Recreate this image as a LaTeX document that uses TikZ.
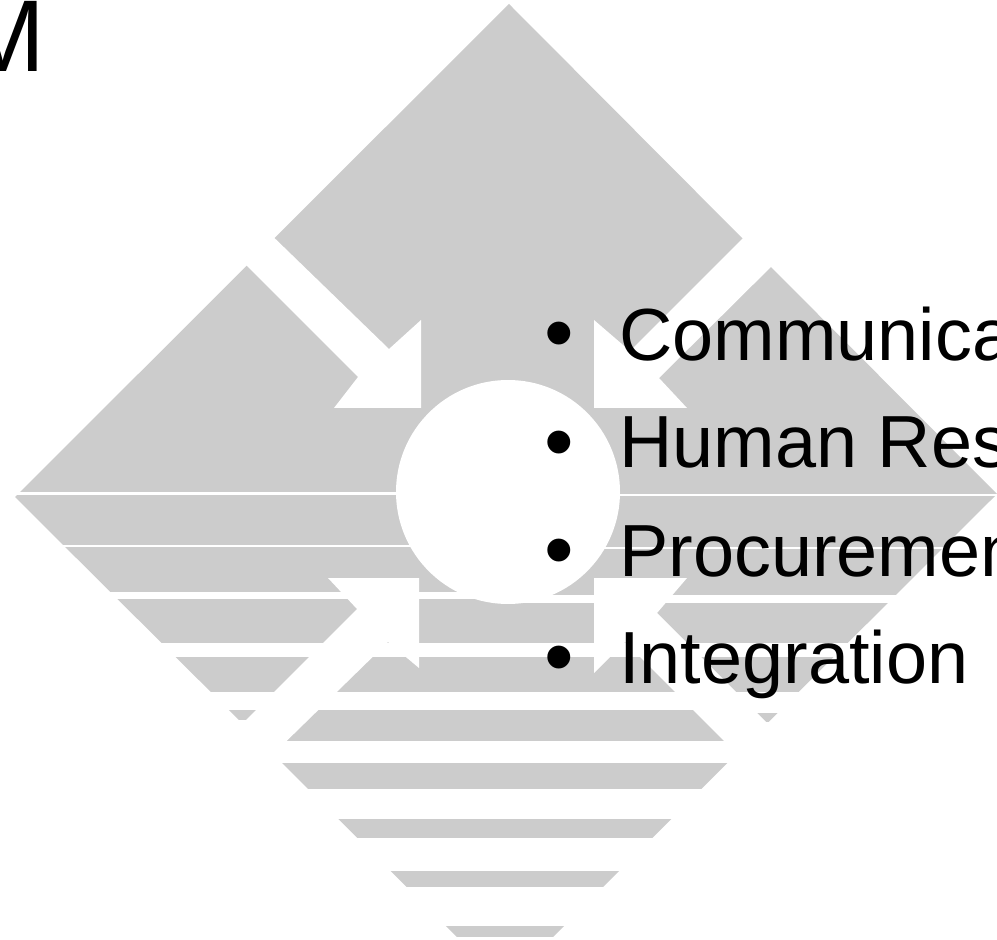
\documentclass[tikz,border=0pt]{standalone}
\usepackage{fontspec}
\setmainfont{Liberation Sans}
\definecolor{logogray}{HTML}{CCCCCC}
\tikzset{
    bandgap/.style={fill=white},
    itemtext/.style={anchor=base west, inner sep=0pt, font=\fontsize{21}{21}\selectfont},
    dottext/.style={anchor=base, inner sep=0pt, font=\fontsize{24}{24}\selectfont}
}
\begin{document}
\begin{tikzpicture}[x=0.01cm, y=-0.01cm]
    \useasboundingbox (0, 0) rectangle (997, 940);
    \clip (0, 0) rectangle (997, 940);

    % Big diamond behind everything
    \fill[logogray] (509, 4) -- (997, 494) -- (505, 985) -- (15, 497) -- cycle;

    % White gaps, left half
    \foreach \ya/\yb in {492/494.5, 544.5/546.5, 592/599}
        \fill[bandgap] (0, \ya) rectangle (510, \yb);
    % White gaps, right half
    \foreach \ya/\yb in {493.5/495.5, 546.5/548.5, 595/602.5}
        \fill[bandgap] (510, \ya) rectangle (997, \yb);
    % White gaps, full width
    \foreach \ya/\yb in {642.5/656.5, 692/710, 741/763, 789/819, 838/871, 887/926, 937/940}
        \fill[bandgap] (0, \ya) rectangle (997, \yb);

    % Small pieces at the ends of the lowest band
    \fill[bandgap] (0, 720) rectangle (270, 741);
    \fill[bandgap] (740, 710) rectangle (997, 713);
    \fill[bandgap] (740, 722) rectangle (997, 741);

    % Arrows towards the middle
    \fill[white] (421, 320) -- (389, 349) -- (260, 224) -- (232, 251) -- (358, 377)
        -- (334, 408) -- (421, 408) -- cycle;
    \fill[white] (594, 320) -- (630, 351) -- (757, 224) -- (786, 252) -- (659, 378)
        -- (687, 408) -- (594, 408) -- cycle;
    \fill[white] (419, 578) -- (328, 578) -- (357, 609) -- (232, 734) -- (263, 764)
        -- (388, 642) -- (419, 668) -- cycle;
    \fill[white] (594, 578) -- (687, 578) -- (657, 613) -- (777, 733) -- (747, 764)
        -- (625, 642) -- (594, 673) -- cycle;

    % Circle in the middle
    \fill[white] (508, 492) circle (112);

    % Cut off title letter
    \node[anchor=base east, inner sep=0pt, font=\fontsize{29}{29}\selectfont] (titleM) at (46.5, 72) {M};

    % Bullet list
    \node[dottext] (dotA) at (559, 361.5) {•};
    \node[itemtext] (itemA) at (618.5, 361) {Communica};
    \node[dottext] (dotB) at (559, 470.5) {•};
    \node[itemtext] (itemB) at (618.5, 468) {Human Res};
    \node[dottext] (dotC) at (559, 578.5) {•};
    \node[itemtext] (itemC) at (618.5, 576) {Procuremen};
    \node[dottext] (dotD) at (559, 685.5) {•};
    \node[itemtext] (itemD) at (618.5, 683) {Integration};
\end{tikzpicture}
\end{document}
